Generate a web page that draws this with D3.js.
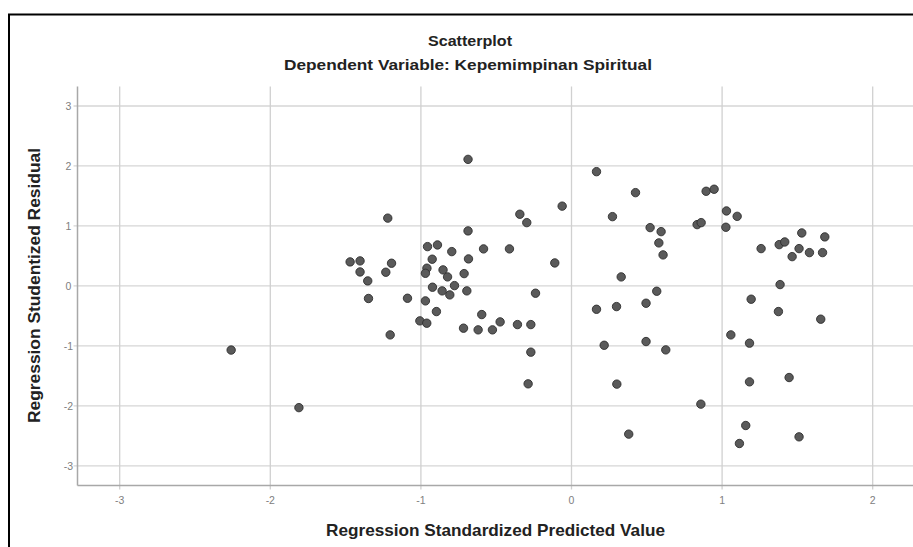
<!DOCTYPE html>
<html><head><meta charset="utf-8">
<script src="https://cdn.jsdelivr.net/npm/d3@7"></script>
<style>body{margin:0;background:#fff}svg{display:block}</style>
</head><body>
<svg id="c" width="913" height="547"></svg>
<script>
const predicted = [-2.26,-1.81,-0.687,0.166,-1.22,-0.062,-0.343,-0.297,0.272,-0.687,-0.956,-0.89,-0.795,-0.584,-0.412,-0.684,-0.925,-1.47,-1.404,-1.195,-0.111,-1.404,-1.233,-0.96,-0.97,-0.853,-0.713,-0.823,-1.353,-0.777,-0.923,-0.859,-0.808,-0.695,-0.239,0.33,-1.348,-1.089,-0.97,-0.897,0.166,0.299,-0.596,-1.007,-0.961,-0.717,-0.62,-0.525,-0.474,-1.204,-0.359,-0.27,-0.27,-0.288,0.217,0.301,0.425,0.522,0.595,0.58,0.608,0.894,0.947,1.029,1.10,0.834,0.861,1.025,1.529,1.682,1.259,1.379,1.416,1.511,1.465,1.58,1.667,1.385,0.566,1.193,0.495,1.374,1.655,0.495,0.626,1.058,1.182,1.182,1.445,0.859,0.38,1.157,1.115,1.511];
const residual = [-1.07,-2.03,2.11,1.905,1.13,1.33,1.195,1.055,1.155,0.917,0.655,0.683,0.572,0.617,0.617,0.45,0.445,0.40,0.417,0.378,0.383,0.233,0.228,0.295,0.21,0.267,0.205,0.15,0.083,0.005,-0.022,-0.083,-0.15,-0.083,-0.122,0.15,-0.21,-0.206,-0.25,-0.428,-0.39,-0.345,-0.478,-0.583,-0.622,-0.705,-0.733,-0.733,-0.60,-0.817,-0.645,-0.645,-1.105,-1.633,-0.99,-1.638,1.555,0.972,0.905,0.717,0.517,1.578,1.612,1.25,1.16,1.022,1.055,0.978,0.883,0.817,0.622,0.688,0.733,0.622,0.488,0.555,0.555,0.022,-0.089,-0.222,-0.289,-0.428,-0.555,-0.928,-1.067,-0.817,-0.955,-1.60,-1.528,-1.972,-2.472,-2.328,-2.628,-2.517];
const xTicks = [-3,-2,-1,0,1,2];
const yTicks = [-3,-2,-1,0,1,2,3];
const title = "Scatterplot";
const subtitle = "Dependent Variable: Kepemimpinan Spiritual";
const xTitle = "Regression Standardized Predicted Value";
const yTitle = "Regression Studentized Residual";

const svg = d3.select("#c");
const x = d3.scaleLinear().domain([-3,2]).range([119.7,872.7]);
const y = d3.scaleLinear().domain([-3,3]).range([465.8,106]);
const L = 77.5, R = 913, T = 86.5, B = 485.5;
const font = "'Liberation Sans', Arial, sans-serif";

// frame
svg.append("rect").attr("x",9).attr("y",14.5).attr("width",940).attr("height",560)
  .attr("fill","none").attr("stroke","#000").attr("stroke-width",2);

// grid
svg.append("g").selectAll("line").data(yTicks).join("line")
  .attr("x1",L-4).attr("x2",R).attr("y1",d=>y(d)).attr("y2",d=>y(d))
  .attr("stroke","#d6d6d6").attr("stroke-width",1.3);
svg.append("g").selectAll("line").data(xTicks).join("line")
  .attr("x1",d=>x(d)).attr("x2",d=>x(d)).attr("y1",T).attr("y2",B+4)
  .attr("stroke","#d0d0d0").attr("stroke-width",1.3);

// axes lines
svg.append("line").attr("x1",L).attr("x2",L).attr("y1",T).attr("y2",B).attr("stroke","#a8a8a8").attr("stroke-width",1.5);
svg.append("line").attr("x1",L).attr("x2",R).attr("y1",B).attr("y2",B).attr("stroke","#a8a8a8").attr("stroke-width",1.5);

// tick labels
svg.append("g").selectAll("text").data(yTicks).join("text")
  .attr("x",68.5).attr("y",d=>y(d)+3.8).attr("text-anchor","middle")
  .attr("font-family",font).attr("font-size",10.5).attr("fill","#808080").text(d=>d);
svg.append("g").selectAll("text").data(xTicks).join("text")
  .attr("x",d=>x(d)).attr("y",504).attr("text-anchor","middle")
  .attr("font-family",font).attr("font-size",10.5).attr("fill","#808080").text(d=>d);

// titles
function t(txt, size, len){
  return svg.append("text").attr("text-anchor","middle").attr("font-family",font)
    .attr("font-size",size).attr("font-weight","bold").attr("fill","#222")
    .attr("textLength",len).attr("lengthAdjust","spacingAndGlyphs").text(txt);
}
t(title,14,84).attr("x",470).attr("y",46);
t(subtitle,14.5,368).attr("x",468).attr("y",70);
t(xTitle,16.5,339).attr("x",495.5).attr("y",536);
t(yTitle,16.5,275).attr("transform","translate(40,285.5) rotate(-90)");

// points
svg.append("g").selectAll("circle").data(predicted.map((p,i)=>[p,residual[i]])).join("circle")
  .attr("cx",d=>x(d[0])).attr("cy",d=>y(d[1])).attr("r",4.2)
  .attr("fill","#5a5a5a").attr("stroke","#2e2e2e").attr("stroke-width",0.9);
</script>
</body></html>
